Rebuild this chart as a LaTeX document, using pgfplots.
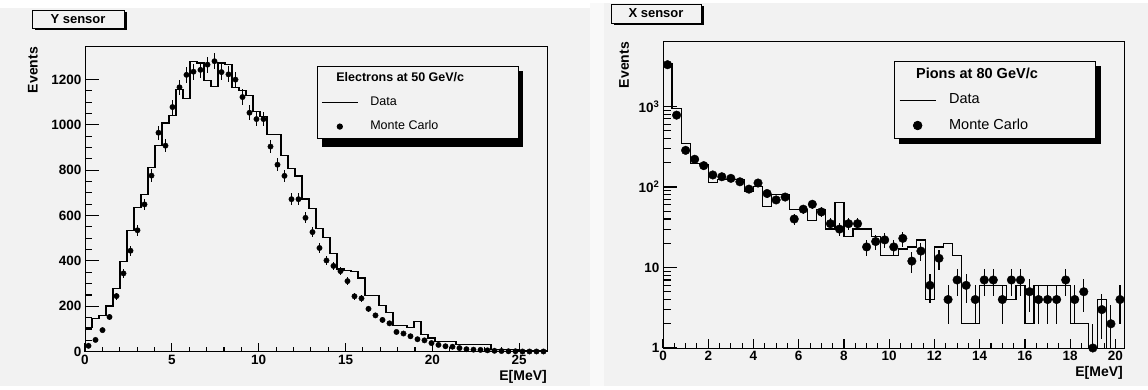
\documentclass[border=0pt]{standalone}
\usepackage{pgfplots}
\pgfplotsset{compat=1.18}
\usepackage{pgfplotstable}
\usepackage{fontspec}
\setmainfont{Liberation Sans}
\usetikzlibrary{shadows}
\definecolor{bg}{RGB}{242,242,242}
\definecolor{gap}{RGB}{249,249,249}

% ---------- left panel: Y sensor, electrons ----------
\pgfplotstableread{
xl d
0 105
0.403 145
0.806 158
1.209 201
1.612 277
2.015 399
2.418 534
2.821 637
3.224 694
3.627 812
4.030 908
4.433 1008
4.836 1040
5.239 1155
5.642 1115
6.045 1278
6.448 1272
6.851 1195
7.254 1170
7.657 1272
8.060 1265
8.463 1165
8.866 1150
9.269 1129
9.672 1058
10.075 1037
10.478 958
10.881 958
11.284 866
11.687 807
12.090 774
12.493 673
12.896 631
13.299 543
13.702 503
14.105 434
14.508 364
14.911 359
15.314 355
15.717 325
16.120 247
16.523 247
16.926 203
17.329 173
17.732 116
18.135 116
18.538 107
18.941 134
19.344 75
19.747 60
20.150 46
20.553 46
20.956 46
21.359 31
21.762 31
22.165 31
22.568 31
22.971 31
23.374 9
23.777 9
24.180 9
24.583 9
24.986 5
25.389 5
25.792 5
26.195 5
26.598 5
}\Lhist

\pgfplotstableread{
xc m e
0.2015 26 5.1
0.6045 52 7.2
1.0075 95 9.7
1.4105 153 12.4
1.8135 245 15.7
2.2165 345 18.6
2.6195 445 21.1
3.0225 535 23.1
3.4255 649 25.5
3.8285 776 27.9
4.2315 965 31.1
4.6345 908 30.1
5.0375 1078 32.8
5.4405 1165 34.1
5.8435 1220 34.9
6.2465 1234 35.1
6.6495 1242 35.2
7.0525 1265 35.6
7.4555 1280 35.8
7.8585 1232 35.1
8.2615 1222 35.0
8.6645 1199 34.6
9.0675 1122 33.5
9.4705 1053 32.4
9.8735 1025 32.0
10.2765 1025 32.0
10.6795 904 30.1
11.0825 824 28.7
11.4855 775 27.8
11.8885 672 25.9
12.2915 672 25.9
12.6945 590 24.3
13.0975 527 23.0
13.5005 457 21.4
13.9035 402 20.0
14.3065 378 19.4
14.7095 355 18.8
15.1125 311 17.6
15.5155 244 15.6
15.9185 235 15.3
16.3215 189 13.7
16.7245 160 12.6
17.1275 140 11.8
17.5305 125 11.2
17.9335 87 9.3
18.3365 80 8.9
18.7395 68 8.2
19.1425 55 7.4
19.5455 50 7.1
19.9485 38 6.2
20.3515 30 5.5
20.7545 24 4.9
21.1575 22 4.7
21.5605 16 4.0
21.9635 11 3.3
22.3665 9 3.0
22.7695 8 2.8
23.1725 6 2.4
23.5755 4 2.0
23.9785 3 1.7
24.3815 2 1.4
24.7845 2 1.4
25.1875 1 1.0
25.5905 1 1.0
25.9935 1 1.0
26.3965 1 1.0
}\Lmc

% ---------- right panel: X sensor, pions ----------
\pgfplotstableread{
xl d
0 3400
0.4 940
0.8 349
1.2 195
1.6 190
2.0 113
2.4 125
2.8 125
3.2 125
3.6 88
4.0 101
4.4 57
4.8 80
5.2 80
5.6 52
6.0 52
6.4 38
6.8 52
7.2 30
7.6 64
8.0 24
8.4 30
8.8 30
9.2 24
9.6 14
10.0 14
10.4 17
10.8 18
11.2 22
11.6 4
12.0 18
12.4 20
12.8 14
13.2 2
13.6 2
14.0 6
14.4 6
14.8 6
15.2 4
15.6 6
16.0 2
16.4 6
16.8 6
17.2 6
17.6 6
18.0 2
18.4 2
18.8 0.3
19.2 4
19.6 0.3
20.0 0.3
20.4 0.3
}\Rhist

\pgfplotstableread{
xc m e
0.2 3300 57
0.6 780 28
1.0 285 17
1.4 221 15
1.8 184 13.6
2.2 141 11.9
2.6 134 11.6
3.0 128 11.3
3.4 116 10.8
3.8 94 9.7
4.2 112 10.6
4.6 83 9.1
5.0 69 8.3
5.4 75 8.7
5.8 40 6.3
6.2 53 7.3
6.6 61 7.8
7.0 49 7.0
7.4 35 5.9
7.8 30 5.5
8.2 35 5.9
8.6 35 5.9
9.0 18 4.2
9.4 21 4.6
9.8 22 4.7
10.2 18 4.2
10.6 23 4.8
11.0 12 3.5
11.4 16 4.0
11.8 6 2.4
12.2 13 3.6
12.6 4 2.0
13.0 7 2.6
13.4 6 2.4
13.8 4 2.0
14.2 7 2.6
14.6 7 2.6
15.0 4 2.0
15.4 7 2.6
15.8 7 2.6
16.2 5 2.2
16.6 4 2.0
17.0 4 2.0
17.4 4 2.0
17.8 7 2.6
18.2 4 2.0
18.6 5 2.2
19.0 1 0.99
19.4 3 1.7
19.8 2 1.4
20.2 4 2.0
}\Rmc

\newcommand{\tickfont}{\fontsize{13.5}{15}\selectfont\bfseries}
\newcommand{\titlefont}{\fontsize{14}{16}\selectfont\bfseries}

\pgfplotsset{
  rootaxis/.style={
    scale only axis, anchor=south west,
    tick align=inside, xtick pos=left, ytick pos=left,
    axis line style={line width=0.9pt, black},
    tick style={line width=1.1pt, black},
    tick label style={font=\tickfont},
    scaled ticks=false,
  },
}

\begin{document}
\begin{tikzpicture}
% canvas
\fill[white] (0pt,0pt) rectangle (1148pt,389pt);
\fill[bg] (0pt,3pt) rectangle (590pt,381pt);
\fill[gap] (590pt,3pt) rectangle (604pt,386pt);
\fill[bg] (604pt,3pt) rectangle (1148pt,386pt);

% legend shadows (solid, offset)
\fill[black] (322pt,242pt) rectangle (523pt,318pt);
\fill[black] (899pt,245pt) rectangle (1101pt,323pt);

% ===== left: y ticks only =====
\begin{axis}[rootaxis, at={(85pt,37.3pt)}, width=462pt, height=305pt,
  xmin=0, xmax=26.6, ymin=0, ymax=1344, hide x axis,
  ytick={0,200,400,600,800,1000,1200},
  yticklabels={0,200,400,600,800,1000,1200},
  minor y tick num=3, major tick length=14pt, minor tick length=7pt]
\end{axis}

% ===== left: main =====
\begin{axis}[rootaxis, at={(85pt,37.3pt)}, width=462pt, height=305pt,
  xmin=0, xmax=26.6, ymin=0, ymax=1344,
  ytick=\empty, yminorticks=false,
  xtick={0,5,10,15,20,25}, xticklabels={0,5,10,15,20,25},
  minor x tick num=4, major tick length=9pt, minor tick length=5pt,
  legend cell align=left,
  legend style={at={(0.502,0.937)}, anchor=north west,
    draw=black, line width=0.8pt, fill=bg,
    font=\fontsize{12.5}{14}\selectfont,
    inner xsep=4pt, inner ysep=4pt, row sep=7.5pt,
    nodes={inner sep=2pt, text height=9.5pt, text depth=3pt},
    /tikz/every odd column/.append style={column sep=10pt}},
]
\addlegendimage{empty legend}
\addlegendentry{\hspace*{-34pt}\bfseries Electrons at 50 GeV/c}
\addplot[const plot, black, line width=1.2pt,
  legend image code/.code={\draw[black, line width=1pt] (0pt,0pt) -- (36pt,0pt);}]
  table[x=xl, y=d] {\Lhist};
\addlegendentry{\makebox[142pt][l]{Data}}
\addplot[only marks, black, mark=*, mark size=2.7pt,
  legend image code/.code={\fill[black] (18pt,0pt) circle (2.7pt);},
  error bars/.cd, y dir=both, y explicit, error mark=none,
  error bar style={line width=1pt, black}]
  table[x=xc, y=m, y error=e] {\Lmc};
\addlegendentry{\makebox[142pt][l]{Monte Carlo}}
\end{axis}

% ===== right: y ticks only =====
\begin{axis}[rootaxis, at={(663pt,41pt)}, width=461.5pt, height=306.5pt,
  ymode=log, xmin=0, xmax=20.4, ymin=1, ymax=6412, hide x axis,
  ytick={1,10,100,1000},
  yticklabels={1,10,10\textsuperscript{2},10\textsuperscript{3}},
  major tick length=14pt, minor tick length=7.5pt]
\end{axis}

% ===== right: main =====
\begin{axis}[rootaxis, at={(663pt,41pt)}, width=461.5pt, height=306.5pt,
  ymode=log, xmin=0, xmax=20.4, ymin=1, ymax=6412,
  ytick=\empty, yminorticks=false,
  xtick={0,2,4,6,8,10,12,14,16,18,20},
  xticklabels={0,2,4,6,8,10,12,14,16,18,20},
  minor x tick num=3, major tick length=9pt, minor tick length=5pt,
  legend cell align=left,
  legend style={at={(0.5,0.936)}, anchor=north west,
    draw=black, line width=0.8pt, fill=bg,
    font=\fontsize{14.5}{16}\selectfont,
    inner xsep=5pt, inner ysep=4pt, row sep=7.5pt,
    nodes={inner sep=2pt, text height=10.5pt, text depth=3.5pt},
    /tikz/every odd column/.append style={column sep=11pt}},
]
\addlegendimage{empty legend}
\addlegendentry{\hspace*{-33pt}\bfseries Pions at 80 GeV/c}
\addplot[const plot, black, line width=1.2pt,
  legend image code/.code={\draw[black, line width=1pt] (0pt,0pt) -- (36pt,0pt);}]
  table[x=xl, y=d] {\Rhist};
\addlegendentry{\makebox[139pt][l]{Data}}
\addplot[only marks, black, mark=*, mark size=4.3pt,
  legend image code/.code={\fill[black] (18pt,0pt) circle (4.3pt);},
  error bars/.cd, y dir=both, y explicit, error mark=none,
  error bar style={line width=1.1pt, black}]
  table[x=xc, y=m, y error=e] {\Rmc};
\addlegendentry{\makebox[139pt][l]{Monte Carlo}}
\end{axis}

% titles and axis labels
\node[draw=black, line width=0.8pt, fill=bg,
  general shadow={fill=black, shadow xshift=2.5pt, shadow yshift=-2.5pt},
  minimum width=92pt, minimum height=18pt, inner sep=0pt,
  font=\fontsize{13}{15}\selectfont\bfseries] at (78pt,370pt) {Y sensor};
\node[draw=black, line width=0.8pt, fill=bg,
  general shadow={fill=black, shadow xshift=2.5pt, shadow yshift=-2.5pt},
  minimum width=90pt, minimum height=19pt, inner sep=0pt,
  font=\fontsize{13}{15}\selectfont\bfseries] at (656pt,375.5pt) {X sensor};

\node[rotate=90, anchor=east, inner sep=0pt, font=\titlefont] at (33pt,342pt) {Events};
\node[rotate=90, anchor=east, inner sep=0pt, font=\titlefont] at (624pt,347pt) {Events};
\node[anchor=east, inner sep=0pt, font=\titlefont] at (547pt,12pt) {E[MeV]};
\node[anchor=east, inner sep=0pt, font=\titlefont] at (1123pt,16pt) {E[MeV]};
\end{tikzpicture}
\end{document}
